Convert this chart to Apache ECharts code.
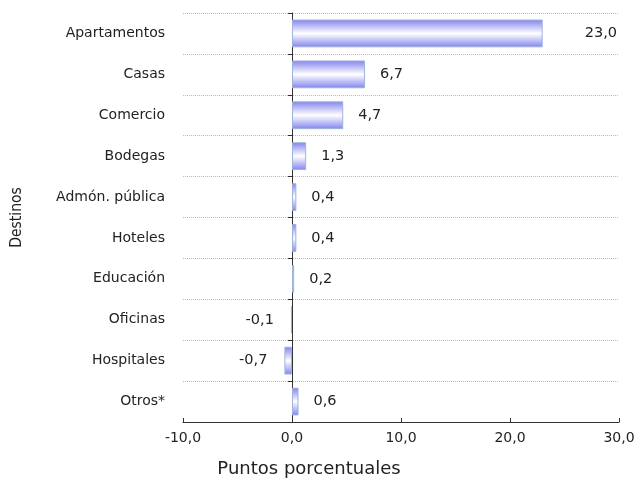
<!DOCTYPE html>
<html>
<head>
<meta charset="utf-8">
<script src="https://cdn.jsdelivr.net/npm/echarts@6/dist/echarts.min.js"></script>
<style>html,body{margin:0;padding:0;background:#fff}#c{width:640px;height:478px}</style>
</head>
<body>
<div id="c"></div>
<script>
const categories = ['Apartamentos','Casas','Comercio','Bodegas','Admón. pública','Hoteles','Educación','Oficinas','Hospitales','Otros*'];
const values = [23.0, 6.7, 4.7, 1.3, 0.4, 0.4, 0.2, -0.1, -0.7, 0.6];
const xTicks = [-10, 0, 10, 20, 30];
const yAxisName = 'Destinos';
const xAxisName = 'Puntos porcentuales';

const fmt = v => v.toFixed(1).replace('.', ',');
const FONT = 'DejaVu Sans';
const chart = echarts.init(document.getElementById('c'));
const barColor = new echarts.graphic.LinearGradient(0, 0, 0, 1, [
  {offset: 0, color: '#8282ee'},
  {offset: 0.5, color: '#ffffff'},
  {offset: 1, color: '#8282ee'}
]);
chart.setOption({
  animation: false,
  grid: {left: 183, right: 21, top: 13, bottom: 56},
  xAxis: {
    type: 'value', min: xTicks[0], max: xTicks[xTicks.length-1], interval: 10,
    axisLine: {show: true, onZero: false, lineStyle: {color: '#333', width: 1}},
    axisTick: {show: true, inside: true, length: 4, lineStyle: {color: '#333'}},
    axisLabel: {formatter: fmt, color: '#222', fontFamily: FONT, fontSize: 14, margin: 9},
    splitLine: {show: false}
  },
  yAxis: [{
    type: 'category', data: categories, inverse: true,
    name: yAxisName, nameLocation: 'middle', nameGap: 158, nameRotate: 90,
    nameTextStyle: {color: '#222', fontFamily: 'DejaVu Sans Condensed', fontSize: 15.5},
    axisLine: {show: false, onZero: false}, axisTick: {show: false},
    axisLabel: {color: '#222', fontFamily: FONT, fontSize: 14, margin: 18},
    splitLine: {show: true, lineStyle: {color: '#bbb', type: [1, 1], width: 1}}
  }, {
    type: 'category', data: categories, inverse: true, position: 'left',
    axisLine: {show: true, onZero: true, onZeroAxisIndex: 0, lineStyle: {color: '#333', width: 1}},
    axisTick: {show: true, length: 4, lineStyle: {color: '#333'}},
    axisLabel: {show: false}, splitLine: {show: false}
  }],
  graphic: [{
    type: 'text', x: 309, y: 460,
    style: {text: xAxisName, fill: '#222', font: '18px "DejaVu Sans"', textAlign: 'center'}
  }],
  series: [{
    type: 'bar', yAxisIndex: 0, barCategoryGap: '32%',
    data: values.map((v, i) => ({
      value: v,
      label: v < 0 ? {position: 'left', distance: 17} : (i === 0 ? {distance: 42} : undefined)
    })),
    itemStyle: {color: barColor, borderColor: '#9fb3dc', borderWidth: 1},
    label: {
      show: true,
      position: 'right',
      distance: 15,
      formatter: p => fmt(p.value),
      color: '#222', fontFamily: FONT, fontSize: 14.5
    }
  }]
});
</script>
</body>
</html>
